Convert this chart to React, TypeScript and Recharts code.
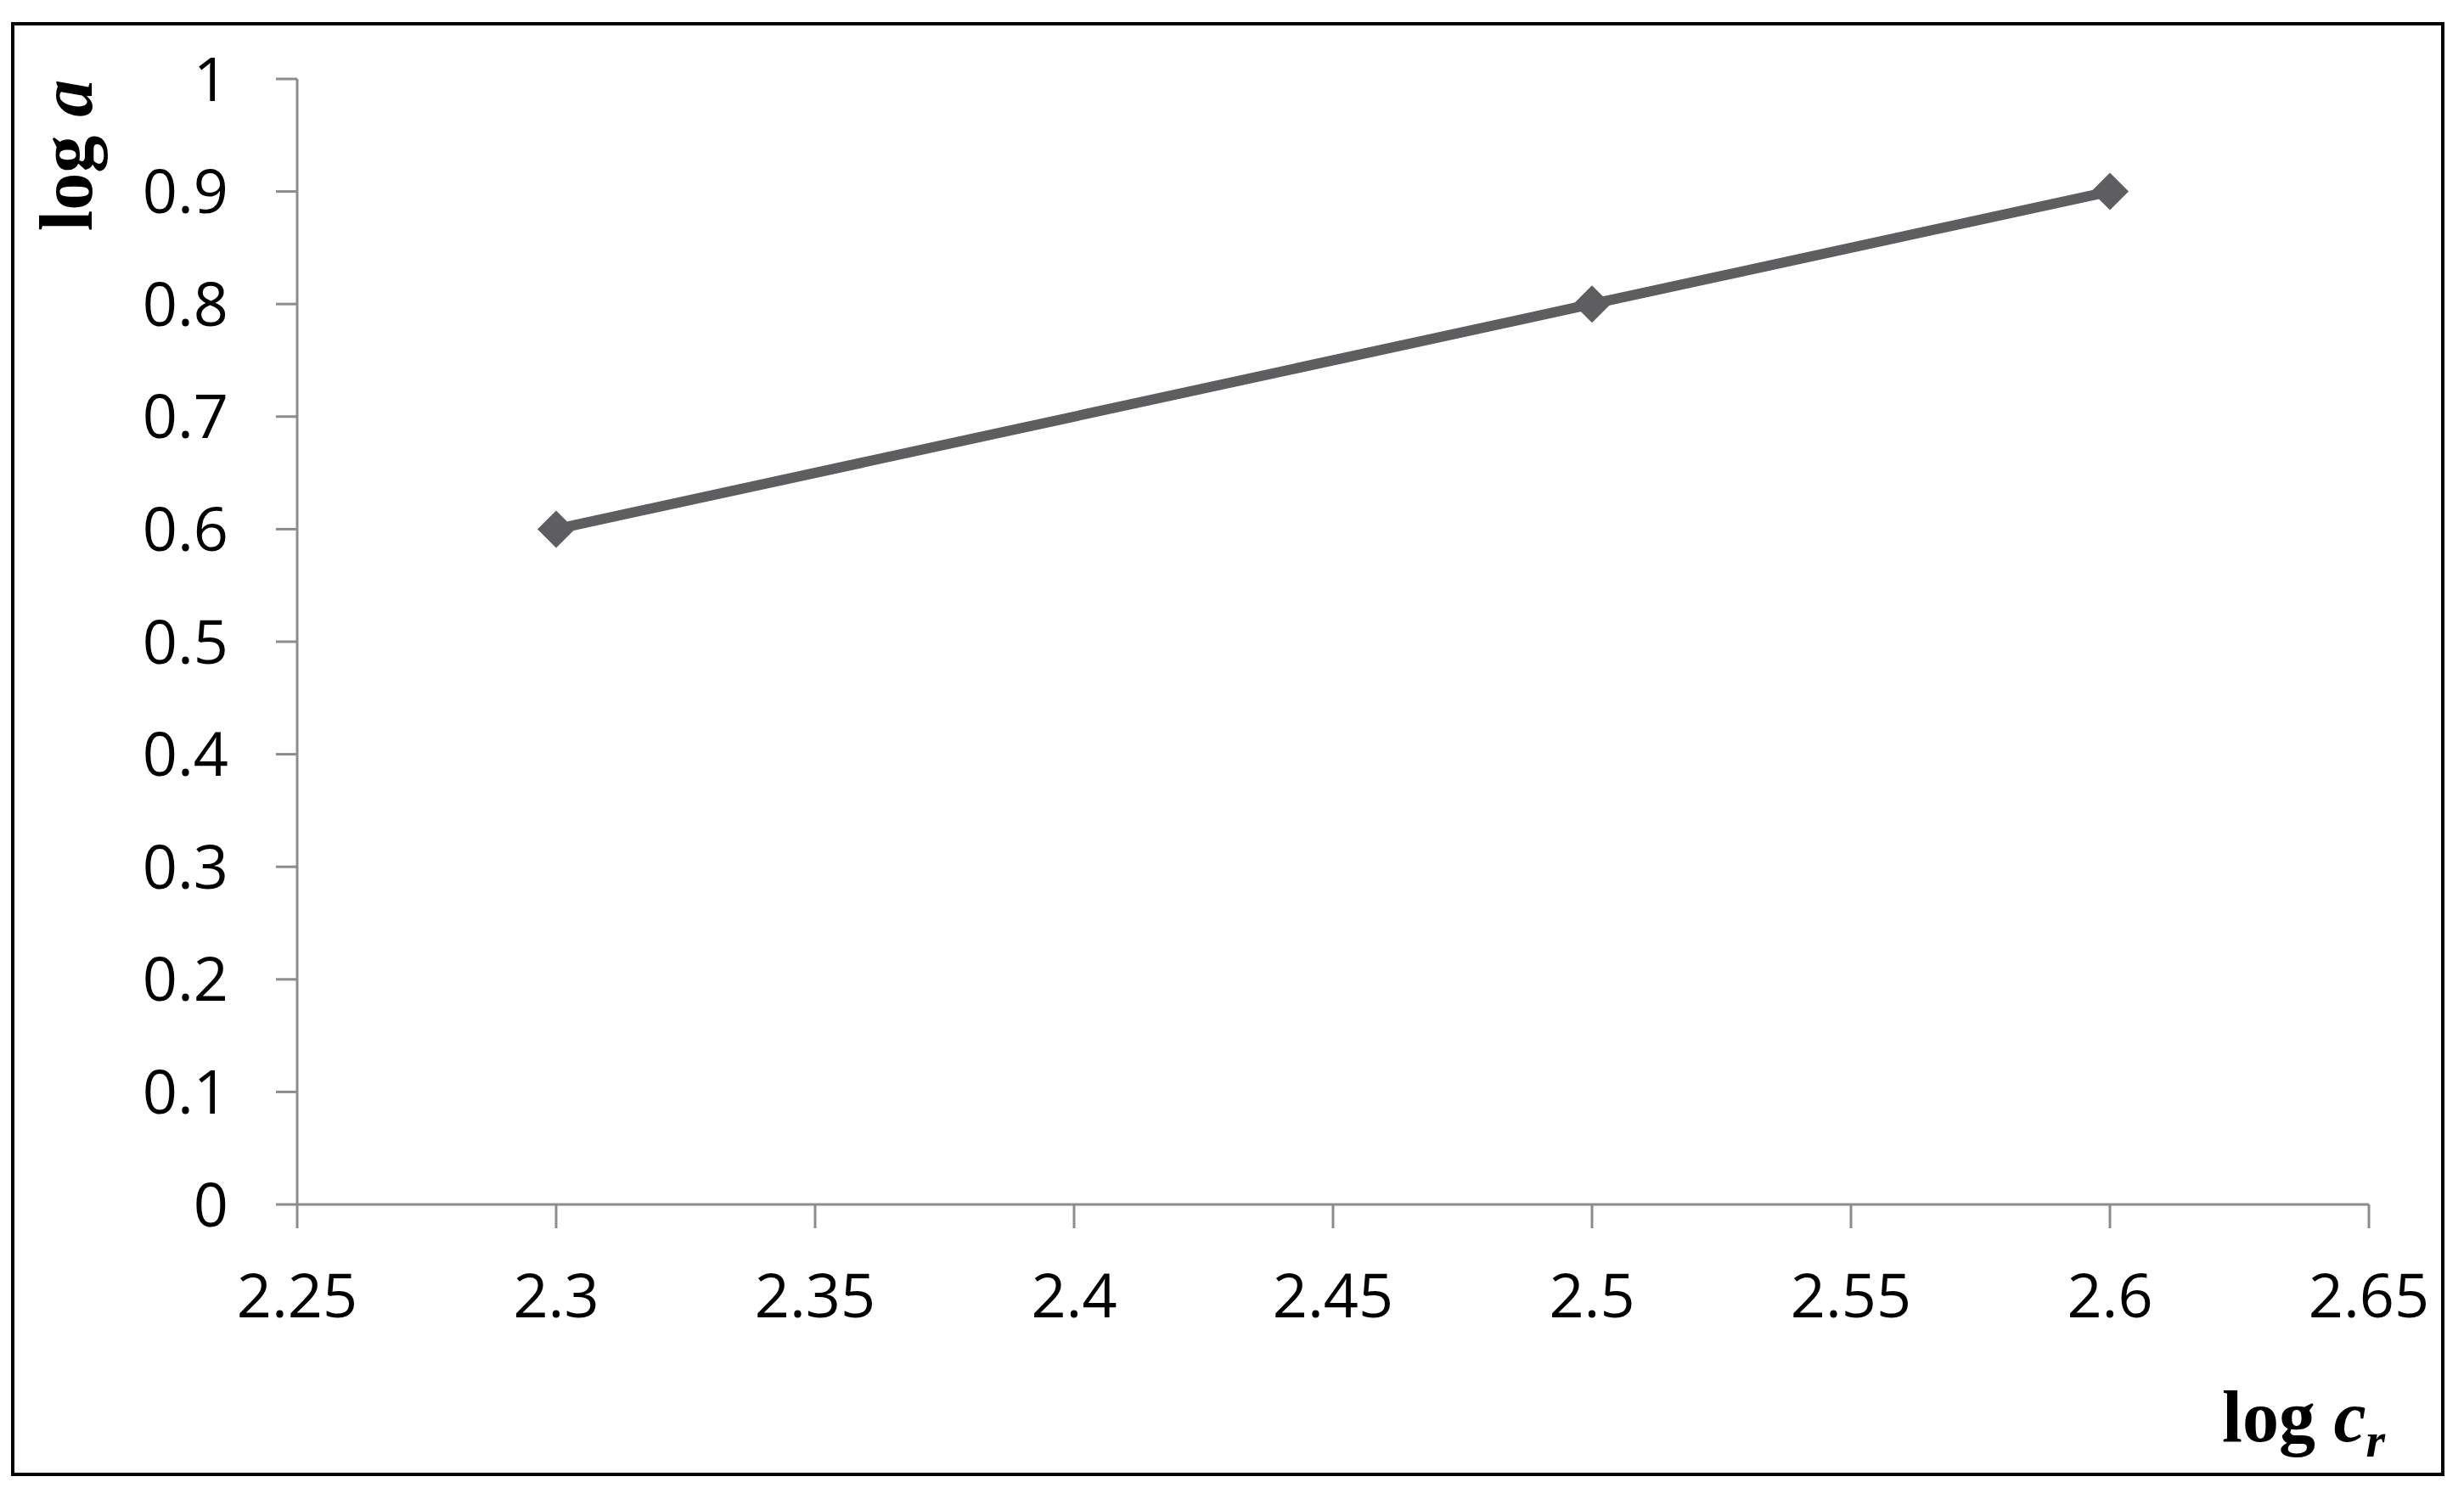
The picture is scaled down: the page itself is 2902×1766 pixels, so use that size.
import { LineChart, Line, XAxis, YAxis } from "recharts";

const logCr = [2.3, 2.5, 2.6];
const logA = [0.6, 0.8, 0.9];

const xTicks = [2.25, 2.3, 2.35, 2.4, 2.45, 2.5, 2.55, 2.6, 2.65];
const yTicks = [0, 0.1, 0.2, 0.3, 0.4, 0.5, 0.6, 0.7, 0.8, 0.9, 1];

const data = logCr.map((x, i) => ({ x, y: logA[i] }));

const LINE = "#5e5e60";
const AXIS = "#8c8c8c";
const TICK_FONT = { fontFamily: "'Open Sans', sans-serif", fontSize: 72, fill: "#000" };
const LABEL_FONT = "'Liberation Serif', 'DejaVu Serif', serif";

const Diamond = (props: any) => {
  const { cx, cy } = props;
  if (cx == null || cy == null) return null;
  const r = 22;
  return (
    <polygon
      key={`d-${cx}`}
      points={`${cx},${cy - r} ${cx + r},${cy} ${cx},${cy + r} ${cx - r},${cy}`}
      fill={LINE}
    />
  );
};

const YLabel = () => (
  <text
    x={108}
    y={183}
    transform="rotate(-90 108 183)"
    textAnchor="middle"
    fontFamily={LABEL_FONT}
    fontWeight="bold"
    fontSize={88}
    fill="#000"
  >
    log <tspan fontStyle="italic">a</tspan>
  </text>
);

const XLabel = () => (
  <text x={2617} y={1698} fontFamily={LABEL_FONT} fontWeight="bold" fontSize={86} fill="#000">
    log <tspan fontStyle="italic">c</tspan>
    <tspan fontStyle="italic" fontSize={58} dy={18}>r</tspan>
  </text>
);

export default function App() {
  return (
    <div style={{ position: "absolute", left: 0, top: 0, width: 2902, height: 1766, background: "#fff" }}>
      <div
        style={{
          position: "absolute",
          left: 13,
          top: 26,
          width: 2866,
          height: 1713,
          border: "4px solid #000",
          boxSizing: "border-box",
        }}
      />
      <LineChart
        width={2902}
        height={1766}
        data={data}
        margin={{ top: 93, right: 112, bottom: 0, left: 0 }}
        style={{ position: "absolute", left: 0, top: 0 }}
      >
        <XAxis
          dataKey="x"
          type="number"
          domain={[2.25, 2.65]}
          ticks={xTicks}
          height={347}
          stroke={AXIS}
          strokeWidth={3}
          tickSize={28}
          tickMargin={54}
          tick={TICK_FONT}
          tickFormatter={(v: number) => String(v)}
          allowDataOverflow
          label={{ content: () => <XLabel /> }}
        />
        <YAxis
          type="number"
          domain={[0, 1]}
          ticks={yTicks}
          width={350}
          stroke={AXIS}
          strokeWidth={3}
          tickSize={25}
          tickMargin={56}
          tick={TICK_FONT}
          tickFormatter={(v: number) => String(v)}
          label={{ content: () => <YLabel /> }}
        />
        <Line
          dataKey="y"
          stroke={LINE}
          strokeWidth={12}
          dot={Diamond}
          activeDot={false}
          isAnimationActive={false}
        />
      </LineChart>
    </div>
  );
}
